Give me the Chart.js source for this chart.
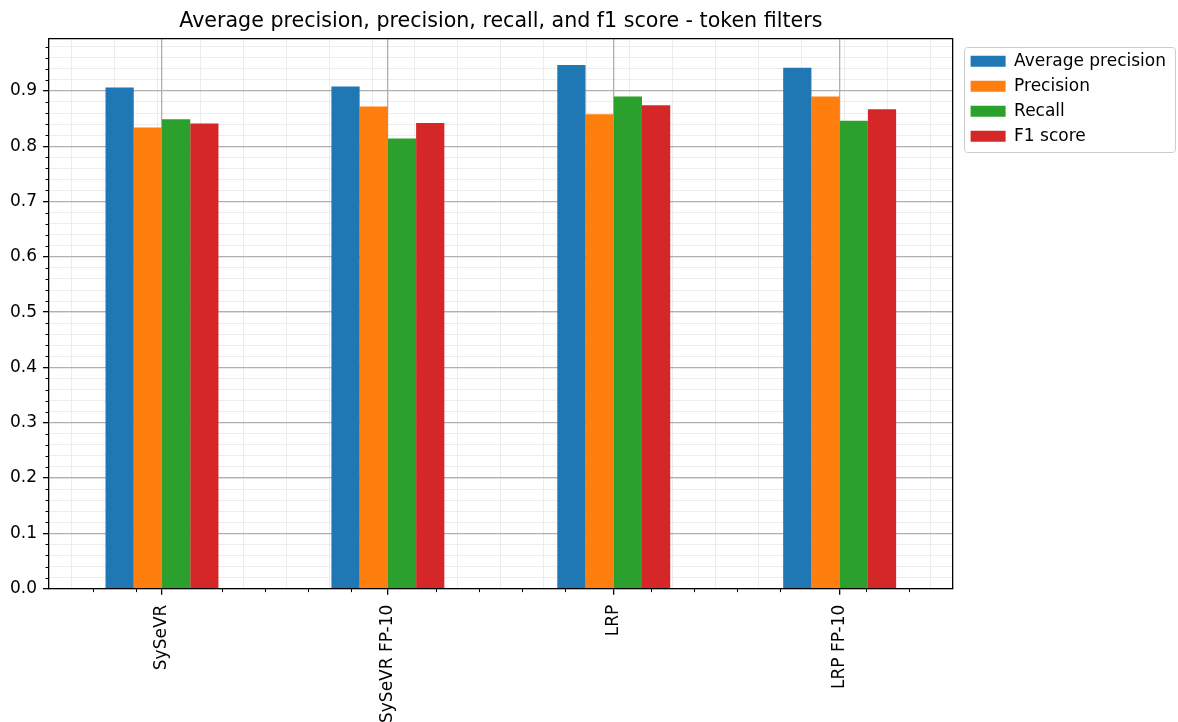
<!DOCTYPE html>
<html>
<head>
<meta charset="utf-8">
<script src="https://cdn.jsdelivr.net/npm/chart.js@4.4.1/dist/chart.umd.min.js"></script>
<style>
	html, body { margin: 0; padding: 0; background: #fff; }
	#wrap { width: 1178px; height: 722px; position: relative; }
</style>
</head>
<body>
<div id="wrap"><canvas id="ctx"></canvas></div>
<script>

	var categories = ['SySeVR', 'SySeVR FP-10', 'LRP', 'LRP FP-10'];
	var seriesNames = ['Average precision', 'Precision', 'Recall', 'F1 score'];

	var averagePrecision = [0.906, 0.908, 0.947, 0.942];
	var precision = [0.834, 0.872, 0.858, 0.890];
	var recall = [0.849, 0.814, 0.890, 0.846];
	var f1Score = [0.841, 0.842, 0.874, 0.867];

	var yMin = 0;
	var yMax = 0.9944;

	var palette = ['#1f77b4', '#ff7f0e', '#2ca02c', '#d62728'];
	var font = 'DejaVu Sans';

	// METHODS
	// --------------------
	function buildDatasets(){
		var values = [averagePrecision, precision, recall, f1Score];
		var sets = [];
		for( var i = 0 ; i < values.length ; i++ ){
			sets.push({
				label: seriesNames[i],
				data: values[i],
				backgroundColor: palette[i],
				borderWidth: 0,
				categoryPercentage: 0.5,
				barPercentage: 1.0
			});
		}
		return sets;
	}

	function isWhole(v){
		return Math.abs(v - Math.round(v)) < 1e-6;
	}

	// short tick marks for the minor steps on both axes
	var minorTicks = {
		id: 'minorTicks',
		afterDraw: function(chart){
			var ctx = chart.ctx;
			var area = chart.chartArea;
			var xs = chart.scales.xMinor;
			var ys = chart.scales.yMinor;
			ctx.save();
			ctx.strokeStyle = '#000';
			ctx.lineWidth = 1;
			ctx.beginPath();
			xs.ticks.forEach(function(t){
				if( isWhole(t.value) ) return;
				var px = Math.round(xs.getPixelForValue(t.value)) + 0.5;
				ctx.moveTo(px, area.bottom);
				ctx.lineTo(px, area.bottom + 3.5);
			});
			ys.ticks.forEach(function(t){
				if( isWhole(t.value * 10) ) return;
				var py = Math.round(ys.getPixelForValue(t.value)) + 0.5;
				ctx.moveTo(area.left - 3.5, py);
				ctx.lineTo(area.left, py);
			});
			ctx.stroke();
			ctx.restore();
		}
	};

	// push the legend down a bit and draw a rounded frame around it
	var legendFrame = {
		id: 'legendFrame',
		afterLayout: function(chart){
			var legend = chart.legend;
			legend.top += 6;
			legend.bottom += 6;
		},
		afterDraw: function(chart){
			var boxes = chart.legend.legendHitBoxes;
			if( !boxes || !boxes.length ) return;
			var left = Infinity, right = -Infinity, top = Infinity, bottom = -Infinity;
			boxes.forEach(function(b){
				left = Math.min(left, b.left);
				right = Math.max(right, b.left + b.width);
				top = Math.min(top, b.top);
				bottom = Math.max(bottom, b.top + b.height);
			});
			var ctx = chart.ctx;
			ctx.save();
			ctx.strokeStyle = '#cccccc';
			ctx.lineWidth = 1;
			ctx.beginPath();
			ctx.roundRect(Math.round(left - 7) + 0.5, Math.round(top - 6) + 0.5, Math.round(right - left + 16), Math.round(bottom - top + 13), 3);
			ctx.stroke();
			ctx.restore();
		}
	};

	var ctx = document.getElementById('ctx');

	var mychart = new Chart(ctx, {
		type: 'bar',
		data: {
			labels: categories,
			datasets: buildDatasets()
		},
		options: {
			responsive: true,
			maintainAspectRatio: false,
			animation: false,
			layout: {
				padding: { top: 0, left: 4, right: 2, bottom: -11 }
			},
			plugins: {
				title: {
					display: true,
					text: 'Average precision, precision, recall, and f1 score - token filters',
					fullSize: false,
					color: '#000',
					font: { family: font, size: 20.6, weight: 'normal' },
					padding: { top: 9, bottom: 5 }
				},
				legend: {
					position: 'right',
					align: 'start',
					fullSize: false,
					maxWidth: 260,
					labels: {
						color: '#000',
						font: { family: font, size: 17 },
						boxWidth: 35,
						boxHeight: 11,
						padding: 8
					}
				},
				tooltip: { enabled: false }
			},
			scales: {
				x: {
					type: 'category',
					offset: true,
					grid: {
						offset: false,
						color: '#b0b0b0',
						lineWidth: 1.3,
						tickLength: 6,
						tickColor: '#000',
						tickWidth: 1.3
					},
					border: { color: '#000', width: 1.3 },
					ticks: {
						color: '#000',
						font: { family: font, size: 17 },
						minRotation: 90,
						maxRotation: 90,
						autoSkip: false,
						padding: 10
					}
				},
				xMinor: {
					type: 'linear',
					position: 'top',
					min: -0.5,
					max: 3.5,
					ticks: { display: false, maxTicksLimit: 22, includeBounds: false },
					grid: { z: -2, color: '#ececec', lineWidth: 1, drawTicks: false },
					border: { display: true, color: '#000', width: 1.3 }
				},
				y: {
					min: yMin,
					max: yMax,
					grid: {
						color: '#b0b0b0',
						lineWidth: 1.3,
						tickLength: 6,
						tickColor: '#000',
						tickWidth: 1.3
					},
					border: { color: '#000', width: 1.3 },
					ticks: {
						stepSize: 0.1,
						includeBounds: false,
						color: '#000',
						font: { family: font, size: 17 },
						padding: 6,
						callback: function(v){ return v.toFixed(1); }
					}
				},
				yMinor: {
					type: 'linear',
					position: 'right',
					min: yMin,
					max: yMax,
					ticks: { display: false, stepSize: 0.02, includeBounds: false },
					grid: { z: -2, color: '#ececec', lineWidth: 1, drawTicks: true, tickLength: 10, tickColor: 'rgba(0,0,0,0)' },
					border: { display: true, color: '#000', width: 1.3 }
				}
			}
		},
		plugins: [minorTicks, legendFrame]
	});

</script>
</body>
</html>
